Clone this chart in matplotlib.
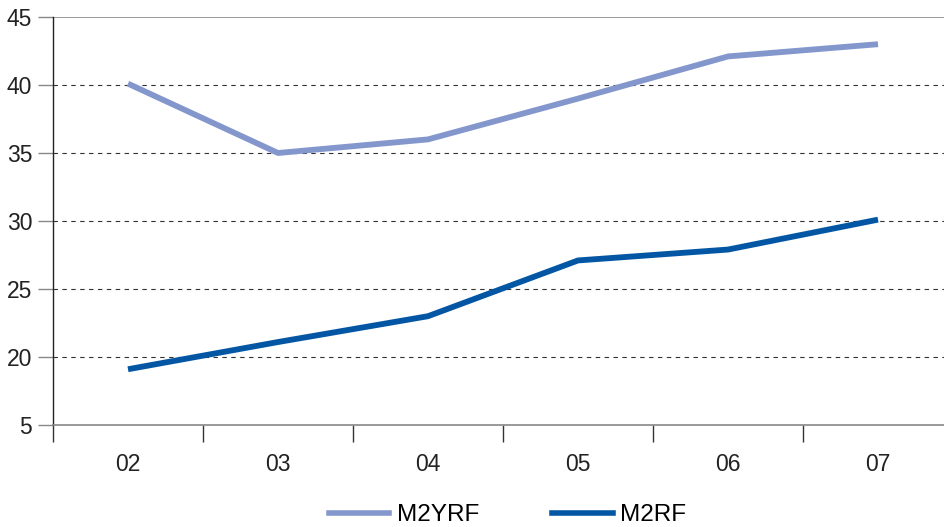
import matplotlib.pyplot as plt
from matplotlib.lines import Line2D

plt.rcParams['font.family'] = ['Liberation Sans', 'DejaVu Sans']

years = ["02", "03", "04", "05", "06", "07"]
m2yrf = [40.1, 35.0, 36.0, 39.0, 42.1, 43.0]
m2rf = [19.1, 21.1, 23.0, 27.1, 27.9, 30.1]
ytick_vals = [15, 20, 25, 30, 35, 40, 45]
ytick_labels = ["5", "20", "25", "30", "35", "40", "45"]

light = "#8497cd"
dark = "#0356a3"

fig = plt.figure(figsize=(9.45, 5.27), dpi=100)
ax = fig.add_axes([53 / 945, 1 - 425 / 527, 900 / 945, 408 / 527])

x = list(range(len(years)))
ax.plot(x, m2yrf, color=light, lw=4.2, solid_capstyle="butt", zorder=3)
ax.plot(x, m2rf, color=dark, lw=4.2, solid_capstyle="butt", zorder=3)

ax.set_xlim(-0.5, len(years) - 0.5)
ax.set_ylim(15, 45)
ax.set_yticks(ytick_vals)
ax.set_yticklabels(ytick_labels)
for v in ytick_vals[1:-1]:
    ax.axhline(v, color="#333333", lw=0.8, ls=(0, (4, 4)), zorder=1)
ax.axhline(45, color="#888888", lw=1.2, zorder=1)

# category boundaries as x ticks
ax.set_xticks([i - 0.5 for i in range(len(years) + 1)], minor=False)
ax.set_xticklabels([])
ax.set_xticks(x, minor=True)
ax.set_xticklabels(years, minor=True)
ax.tick_params(axis="x", which="major", length=12, width=1, color="#333333")
ax.tick_params(axis="x", which="minor", length=0, pad=20, labelsize=16.5, labelcolor="#222222")
ax.tick_params(axis="y", length=11, width=1, color="#888888", labelsize=16.5, labelcolor="#222222", pad=4)

for s in ["top", "right"]:
    ax.spines[s].set_visible(False)
ax.spines["bottom"].set_color("#888888")
ax.spines["bottom"].set_linewidth(1.2)
ax.spines["left"].set_color("#222222")
ax.spines["left"].set_linewidth(1)
ax.spines["left"].set_bounds(15, 45)

handles = [Line2D([], [], color=light, lw=4.0), Line2D([], [], color=dark, lw=4.0)]
fig.legend(handles, ["M2YRF", "M2RF"], loc="center", bbox_to_anchor=(0.537, 0.022),
           ncol=2, frameon=False, fontsize=17.5, handlelength=2.5, handletextpad=0.3,
           columnspacing=3.0)

fig.savefig("out.png", dpi=100)
